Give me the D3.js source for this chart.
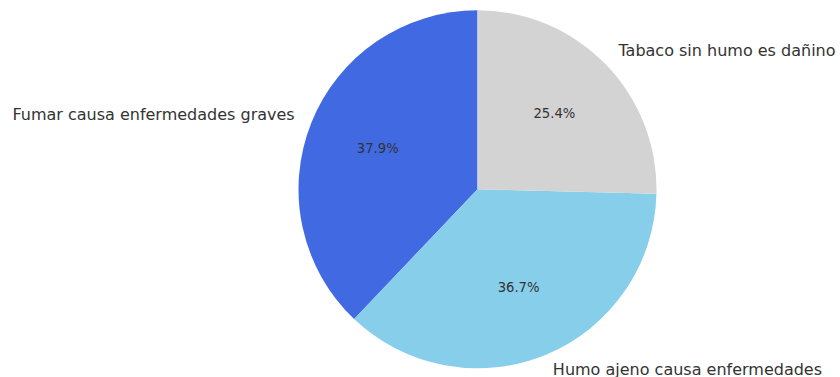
<!DOCTYPE html>
<html>
<head>
<meta charset="utf-8">
<script src="https://cdn.jsdelivr.net/npm/d3@7"></script>
<style>
  html, body { margin: 0; padding: 0; background: #ffffff; }
  svg { display: block; }
</style>
</head>
<body>
<svg id="chart" width="840" height="377"></svg>
<script>
// Survey statements and their shares (percent)
const categories = ["Fumar causa enfermedades graves", "Humo ajeno causa enfermedades", "Tabaco sin humo es dañino"];
const shares = [37.9, 36.7, 25.4];
const colors = ["#4169E1", "#87CEEB", "#D3D3D3"];

const width = 840, height = 377;
const cx = 477.5, cy = 189.3, radius = 179;

const svg = d3.select("#chart");
const g = svg.append("g").attr("transform", `translate(${cx},${cy})`);

// Counter-clockwise from 12 o'clock: d3 angles run clockwise, so negate.
const pie = d3.pie().sort(null).value(d => d)
  .startAngle(0).endAngle(-2 * Math.PI);
const arcs = pie(shares);

const arc = d3.arc().innerRadius(0).outerRadius(radius);

g.selectAll("path.slice")
  .data(arcs)
  .join("path")
  .attr("class", "slice")
  .attr("d", arc)
  .attr("fill", (d, i) => colors[i]);

function midPoint(d, r) {
  const a = (d.startAngle + d.endAngle) / 2; // clockwise-from-top angle
  return [r * Math.sin(a), -r * Math.cos(a)];
}

// Outer category labels
g.selectAll("text.label")
  .data(arcs)
  .join("text")
  .attr("class", "label")
  .attr("x", d => midPoint(d, radius * 1.1)[0])
  .attr("y", d => midPoint(d, radius * 1.1)[1] - 1.5)
  .attr("text-anchor", d => midPoint(d, 1)[0] < 0 ? "end" : "start")
  .attr("dominant-baseline", "central")
  .attr("font-family", "DejaVu Sans, sans-serif")
  .attr("font-size", 16)
  .attr("fill", "#333333")
  .text((d, i) => categories[i]);

// Percentage labels inside slices
g.selectAll("text.pct")
  .data(arcs)
  .join("text")
  .attr("class", "pct")
  .attr("x", d => midPoint(d, radius * 0.6)[0])
  .attr("y", d => midPoint(d, radius * 0.6)[1] - 1)
  .attr("text-anchor", "middle")
  .attr("dominant-baseline", "central")
  .attr("font-family", "DejaVu Sans, sans-serif")
  .attr("font-size", 13.2)
  .attr("fill", "#333333")
  .text(d => d.value.toFixed(1) + "%");
</script>
</body>
</html>
